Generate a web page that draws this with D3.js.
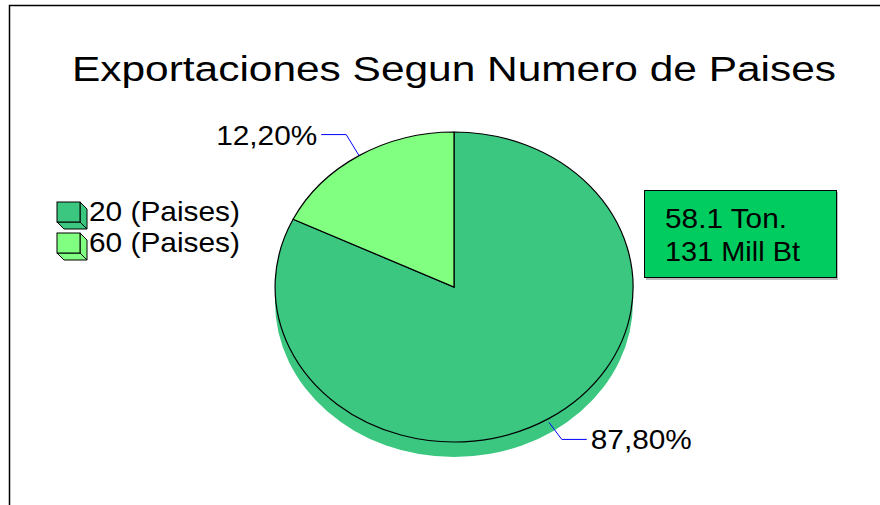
<!DOCTYPE html>
<html>
<head>
<meta charset="utf-8">
<script src="https://cdn.jsdelivr.net/npm/d3@7"></script>
<style>
  body { margin: 0; background: #fff; }
  text { font-family: "Liberation Sans", Arial, sans-serif; fill: #000; }
</style>
</head>
<body>
<div id="chart"></div>
<script>
// ===========Data
var categories = ["20 (Paises)", "60 (Paises)"];
var sliceShare = [82.2, 17.8];            // share as drawn in the picture
var sliceLabels = ["87,80%", "12,20%"];   // label text printed on the chart
var colors = ["#3BC780", "#80FF80"];
var noteLines = ["58.1 Ton.", "131 Mill Bt"];
var title = "Exportaciones Segun Numero de Paises";

// ===========Sizes
var svgWidth = 880, svgHeight = 505;
var cx = 454, cy = 287, rx = 179, ry = 155, depth = 15;

var svg = d3.select("#chart").append("svg")
    .attr("width", svgWidth)
    .attr("height", svgHeight);

// ===========Frame
svg.append("path")
    .attr("d", "M9.5,505 V5.5 H880")
    .attr("fill", "none")
    .attr("stroke", "#000")
    .attr("stroke-width", 1.5);

// ===========Title
svg.append("text")
    .attr("x", 72)
    .attr("y", 81)
    .attr("font-size", 35.5)
    .attr("textLength", 764)
    .attr("lengthAdjust", "spacingAndGlyphs")
    .text(title);

// ===========Pie
var pie = d3.pie().sort(null).value(d => d);
var arcs = pie(sliceShare);
var arc = d3.arc().innerRadius(0).outerRadius(1);

// side of the 3D pie
var side = svg.append("g");
side.append("ellipse")
    .attr("cx", cx).attr("cy", cy + depth)
    .attr("rx", rx).attr("ry", ry)
    .attr("fill", colors[0]);
side.append("rect")
    .attr("x", cx - rx).attr("y", cy)
    .attr("width", rx * 2).attr("height", depth)
    .attr("fill", colors[0]);

var pieGroup = svg.append("g")
    .attr("transform", `translate(${cx},${cy}) scale(${rx},${ry})`);

pieGroup.selectAll("path")
    .data(arcs)
    .enter()
    .append("path")
    .attr("d", arc)
    .attr("fill", (d, i) => colors[i])
    .attr("stroke", "#000")
    .attr("stroke-width", 1.2)
    .attr("vector-effect", "non-scaling-stroke");

// ===========Leader lines and labels
arcs.forEach(function(d, i) {
    var mid = (d.startAngle + d.endAngle) / 2;
    var sx = Math.sin(mid), sy = -Math.cos(mid);
    var p0 = [cx + rx * sx, cy + ry * sy + (sy > 0 ? 4 : 0)];
    var p1 = [cx + rx * 1.135 * sx, cy + ry * 1.16 * sy];
    var dir = sx >= 0 ? 1 : -1;
    var p2 = [p1[0] + dir * 25, p1[1]];

    svg.append("path")
        .attr("d", d3.line()([p0, p1, p2]))
        .attr("fill", "none")
        .attr("stroke", "#0000FF")
        .attr("stroke-width", 1);

    svg.append("text")
        .attr("x", p2[0] + dir * 4)
        .attr("y", p2[1] + 10)
        .attr("text-anchor", dir > 0 ? "start" : "end")
        .attr("font-size", 28)
        .attr("textLength", 101)
        .attr("lengthAdjust", "spacingAndGlyphs")
        .text(sliceLabels[i]);
});

// ===========Legend
var legend = svg.append("g")
    .attr("transform", "translate(57,202)");

categories.forEach(function(c, i) {
    var g = legend.append("g").attr("transform", `translate(0,${i * 31})`);
    var w = 23, h = 20, o = 7;
    g.append("polygon")
        .attr("points", [[w, 0], [w + o, o], [w + o, h + o], [w, h]].join(" "))
        .attr("fill", colors[i]).attr("stroke", "#000").attr("stroke-width", 1);
    g.append("polygon")
        .attr("points", [[0, h], [w, h], [w + o, h + o], [o, h + o]].join(" "))
        .attr("fill", colors[i]).attr("stroke", "#000").attr("stroke-width", 1);
    g.append("rect")
        .attr("x", 0).attr("y", 0)
        .attr("width", w).attr("height", h)
        .attr("fill", colors[i]).attr("stroke", "#000").attr("stroke-width", 1);
    g.append("text")
        .attr("x", 32)
        .attr("y", 19)
        .attr("font-size", 28)
        .attr("textLength", 151)
        .attr("lengthAdjust", "spacingAndGlyphs")
        .text(c);
});

// ===========Note box
var note = svg.append("g").attr("transform", "translate(644,190)");
note.append("rect")
    .attr("x", 2).attr("y", 2)
    .attr("width", 192).attr("height", 88)
    .attr("fill", "#bbb");
note.append("rect")
    .attr("x", 0.5).attr("y", 0.5)
    .attr("width", 192).attr("height", 87)
    .attr("fill", "#00CC5F")
    .attr("stroke", "#000")
    .attr("stroke-width", 1);
note.selectAll("text.note")
    .data(noteLines)
    .enter()
    .append("text")
    .attr("class", "note")
    .attr("x", 21)
    .attr("y", (d, i) => 38 + i * 33)
    .attr("font-size", 28.5)
    .attr("textLength", (d, i) => [122, 135][i])
    .attr("lengthAdjust", "spacingAndGlyphs")
    .text(d => d);
</script>
</body>
</html>
